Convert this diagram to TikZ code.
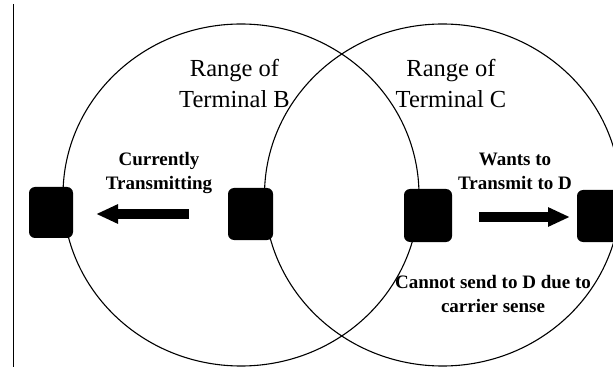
\documentclass[tikz,border=0pt]{standalone}
\usepackage{fontspec}
\setmainfont{Liberation Serif}
\usetikzlibrary{arrows.meta}
\begin{document}
\begin{tikzpicture}[x=1pt,y=-1pt,
  terminal/.style={fill=black, rounded corners=6pt, inner sep=0pt, minimum width=45pt, minimum height=52pt},
  rangeline/.style={line width=1.1pt},
  blockarrow/.style={line width=10pt, -{Triangle[length=22pt 0, width=18pt 0]}},
  rangelabel/.style={align=center, inner sep=0pt, anchor=north, font=\fontsize{24.5}{30.5}\selectfont},
  smalllabel/.style={align=center, inner sep=0pt, anchor=north, font=\bfseries\fontsize{19}{24}\selectfont}]
\useasboundingbox (0,0) rectangle (613,374);
\clip (0,0) rectangle (613,374);

% margin rule on the left
\coordinate (ruletop) at (13,4);
\coordinate (rulebot) at (13,367);
\draw[line width=0.9pt] (ruletop) -- (rulebot);

% radio ranges of B and C
\draw[rangeline] (241,195) ellipse [x radius=178, y radius=171];
\draw[rangeline] (442.5,195) ellipse [x radius=178, y radius=171];

% terminals A, B, C, D
\node[terminal, minimum width=44pt, minimum height=51pt] (A) at (51,212.5) {};
\node[terminal] (B) at (250.5,214) {};
\node[terminal, minimum width=48pt, minimum height=53pt] (C) at (428,215.5) {};
\node[terminal, minimum width=46pt] (D) at (600,216) {};

% transmission arrows
\coordinate (btail) at (189,214);
\coordinate (btip) at (96,214);
\coordinate (ctail) at (479,217);
\coordinate (ctip) at (570,217);
\draw[blockarrow] (btail) -- (btip);
\draw[blockarrow] (ctail) -- (ctip);

% labels
\node[rangelabel] (rb) at (234.5,59.5) {Range of\\Terminal B};
\node[rangelabel] (rc) at (451,59.5) {Range of\\Terminal C};
\node[smalllabel] (cur) at (159,152) {Currently\\Transmitting};
\node[smalllabel] (want) at (515,153) {Wants to\\Transmit to D};
\node[smalllabel] (cannot) at (493,275) {Cannot send to D due to\\carrier sense};
\end{tikzpicture}
\end{document}
